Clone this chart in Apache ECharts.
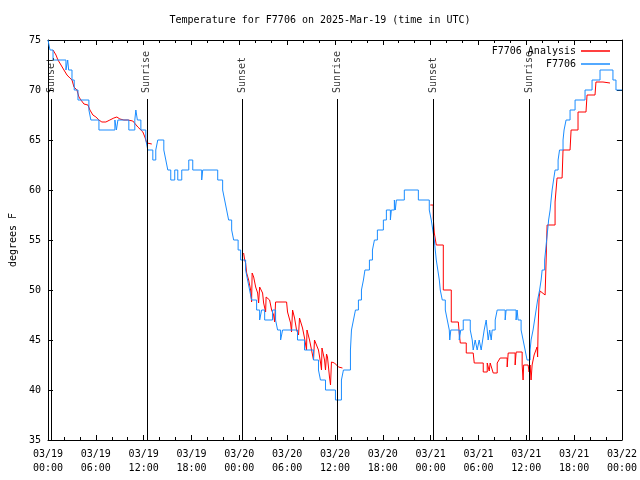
<!DOCTYPE html>
<html><head><meta charset="utf-8">
<script src="https://cdn.jsdelivr.net/npm/echarts@6/dist/echarts.min.js"></script>
<style>html,body{margin:0;padding:0;background:#fff}#c{width:640px;height:480px}</style>
</head><body><div id="c"></div>
<script>
// time in hours since 2025-03-19 00:00 UTC
const xTickLabels = ['03/19\n00:00','03/19\n06:00','03/19\n12:00','03/19\n18:00','03/20\n00:00','03/20\n06:00','03/20\n12:00','03/20\n18:00','03/21\n00:00','03/21\n06:00','03/21\n12:00','03/21\n18:00','03/22\n00:00'];
const yTicks = [35,40,45,50,55,60,65,70,75];

// F7706 observations (change points, held until next)
const obsHours = [0.00,0.25,0.63,2.25,2.47,2.59,3.01,3.29,3.76,5.13,5.38,6.39,8.39,8.58,8.77,10.14,10.89,11.02,11.21,11.65,12.27,12.52,13.15,13.52,13.77,14.53,14.78,15.03,15.40,15.90,16.28,16.78,17.66,18.16,19.28,19.41,21.29,21.91,22.16,22.41,22.66,23.04,23.29,23.85,24.17,24.79,25.04,25.29,25.54,26.17,26.55,26.80,27.18,28.17,28.55,28.80,29.18,29.43,31.30,32.18,33.31,33.93,34.18,34.81,36.06,36.81,37.06,37.94,38.07,38.32,38.57,38.94,39.32,39.57,39.76,40.32,40.70,40.95,41.32,42.07,42.45,42.95,43.07,43.45,43.57,43.70,44.70,46.46,47.83,48.08,48.27,48.46,48.58,48.71,48.90,49.09,49.21,49.46,49.84,50.09,50.34,50.40,50.53,51.59,51.78,52.09,52.97,53.22,53.34,53.59,53.84,54.09,54.34,54.53,54.72,54.97,55.10,55.22,55.41,55.60,55.72,56.10,56.35,57.35,57.47,58.72,58.85,58.97,59.35,59.60,59.85,60.10,60.48,60.60,60.85,61.04,61.23,61.42,61.67,61.86,61.99,62.30,62.43,62.55,62.68,62.80,62.99,63.11,63.24,63.42,63.61,63.99,64.17,64.61,64.74,64.99,65.49,66.12,67.37,68.25,69.25,70.87,71.25,72.00];
const obsTemps = [75,74,73,72,73,72,71,70,69,68,67,66,67,66,67,66,67,68,67,66,65,64,63,64,65,64,63,62,61,62,61,62,63,62,61,62,61,60,59,58,57,56,55,54,53,52,51,50,49,48,47,48,47,48,47,46,45,46,45,44,43,42,41,40,39,41,42,44,46,47,48,49,50,51,52,53,54,55,56,57,58,57,58,59,58,59,60,59,58,57,56,55,54,53,52,51,50,49,48,47,46,45,46,45,46,47,46,45,44,45,44,45,44,45,46,47,46,45,46,45,46,47,48,47,48,47,48,47,46,45,44,43,44,45,46,47,48,49,50,51,52,53,54,55,56,57,58,59,60,61,62,63,64,65,66,67,68,69,70,71,72,71,70,70];

// F7706 Analysis (three segments, null = gap)
const anaHours = [0.63,0.75,1.00,1.25,1.63,2.00,2.38,2.75,3.01,3.26,3.63,3.88,4.13,4.51,5.01,5.26,5.63,6.01,6.39,6.76,7.26,7.76,8.26,8.64,9.02,9.52,10.02,10.64,10.89,11.27,11.52,11.90,12.15,12.40,13.02,
 13.5,
 24.54,24.67,24.79,24.92,25.17,25.42,25.54,25.61,25.80,26.05,26.30,26.42,26.55,26.67,26.92,27.05,27.30,27.36,27.55,27.80,28.05,28.30,28.43,28.55,29.93,30.05,30.43,30.55,30.68,30.93,31.18,31.43,31.55,31.68,31.93,32.18,32.43,32.49,32.56,32.81,33.06,33.31,33.43,33.68,33.93,34.18,34.31,34.37,34.44,34.69,34.81,34.94,35.06,35.31,35.44,35.56,35.69,35.94,36.19,36.44,36.94,
 40.0,
 47.96,48.33,48.33,48.46,48.71,49.59,49.59,50.59,50.59,51.47,51.59,51.72,52.47,52.47,53.34,53.47,54.60,54.60,55.10,55.10,55.35,55.35,55.47,55.72,55.85,56.35,56.35,56.72,57.60,57.60,57.73,58.60,58.60,58.73,59.48,59.48,59.60,59.67,60.23,60.35,60.48,60.60,60.73,60.98,61.23,61.35,61.42,61.48,61.61,61.73,62.36,62.49,62.61,63.61,63.61,63.86,64.49,64.61,65.49,65.62,66.49,66.49,67.49,67.62,68.62,68.74,69.62,70.50];
const anaTemps = [74,73.9,73.5,73,72.5,72,71.5,71.2,71,70.3,70,69.3,69,68.6,68.5,68,67.5,67.3,67,66.8,66.8,67,67.2,67.3,67.1,67,67,66.9,66.8,66.3,66.2,65.8,65.3,64.7,64.6,
 null,
 53.7,53.0,52.7,51.7,51.0,50.0,48.8,51.7,51.3,50.3,49.7,48.7,50.3,50.3,49.7,48.7,47.8,49.3,49.3,49.0,48.0,47.5,46.8,48.8,48.8,47.8,46.7,45.8,48.0,47.2,46.0,45.5,47.2,47.2,46.2,45.2,44.0,46.0,46.0,45.0,44.0,43.0,45.0,45.0,44.0,42.8,42.0,44.2,44.2,43.0,42.0,43.6,43.3,41.3,40.5,42.8,43.0,42.7,42.5,42.3,42.2,
 null,
 58.5,58.5,57.2,55.7,54.5,54.5,50.0,50.0,46.8,46.8,45.7,44.7,44.7,43.7,43.7,42.7,42.7,41.8,41.8,42.7,42.7,41.9,42.7,42.7,41.7,41.7,42.7,43.2,43.2,42.3,43.7,43.7,42.5,43.8,43.8,42.5,41.0,42.5,42.5,41.8,42.5,41.0,42.5,43.5,43.5,44.3,43.3,46.0,49.3,49.9,49.5,53.0,56.5,56.5,58.8,61.2,61.2,64.0,64.0,66.0,66.0,67.8,67.8,69.5,69.5,70.8,70.8,70.7];

// Sun events
const eventNames = ['Sunset','Sunrise','Sunset','Sunrise','Sunset','Sunrise'];
const eventHours = [0.38,12.40,24.40,36.33,48.36,60.35];
const eventLineTop = 69.1, eventLabelBase = 69.7;

const FONT = 'DejaVu Sans Mono';
const obsData = obsHours.map((h,i)=>[h,obsTemps[i]]);
const anaData = anaHours.map((h,i)=>[h, anaTemps[i]===null ? '-' : anaTemps[i]]);

const baseX = {
  type:'value', min:0, max:72, interval:6,
  axisLine:{show:true,onZero:false,lineStyle:{color:'#000',width:1}},
  axisTick:{show:true,inside:true,length:5,lineStyle:{color:'#000'}},
  minorTick:{show:true,splitNumber:3,length:3,lineStyle:{color:'#000'}},
  splitLine:{show:false}, minorSplitLine:{show:false}
};
const baseY = {
  type:'value', min:35, max:75, interval:5,
  axisLine:{show:true,onZero:false,lineStyle:{color:'#000',width:1}},
  axisTick:{show:true,inside:true,length:5,lineStyle:{color:'#000'}},
  splitLine:{show:false}
};

const chart = echarts.init(document.getElementById('c'), null, {renderer:'canvas'});
chart.setOption({
  animation:false,
  backgroundColor:'#fff',
  title:{text:'Temperature for F7706 on 2025-Mar-19 (time in UTC)', left:'center', top:10,
    textStyle:{fontFamily:FONT,fontSize:10,fontWeight:'normal',color:'#000'}},
  grid:{left:47,right:18,top:40,bottom:40},
  legend:{
    data:['F7706 Analysis','F7706'], orient:'vertical', right:30, top:45, align:'right',
    padding:0, icon:'rect', itemWidth:29, itemHeight:1.5, itemGap:1,
    textStyle:{fontFamily:FONT,fontSize:10,color:'#000',width:86,align:'right',lineHeight:12}
  },
  xAxis:[
    Object.assign({}, baseX, {position:'bottom',
      axisLabel:{show:true,margin:7,fontFamily:FONT,fontSize:10,color:'#000',lineHeight:14,
        formatter:(v)=>xTickLabels[Math.round(v/6)]}}),
    Object.assign({}, baseX, {position:'top', axisLabel:{show:false}})
  ],
  yAxis:[
    Object.assign({}, baseY, {position:'left', name:'degrees F', nameLocation:'middle', nameGap:30,
      nameTextStyle:{fontFamily:FONT,fontSize:10,color:'#000'},
      axisLabel:{show:true,margin:7,fontFamily:FONT,fontSize:10,color:'#000',
        formatter:(v)=>yTicks.includes(v)?String(v):''}}),
    Object.assign({}, baseY, {position:'right', axisLabel:{show:false}})
  ],
  series:[
    {name:'F7706 Analysis', type:'line', data:anaData, showSymbol:false, symbol:'none',
      connectNulls:false, lineStyle:{color:'#ff0000',width:1}, itemStyle:{color:'#ff0000'}, z:2},
    {name:'F7706', type:'line', step:'end', data:obsData, showSymbol:false, symbol:'none',
      lineStyle:{color:'#1a8cff',width:1}, itemStyle:{color:'#1a8cff'}, z:3},
    {name:'events', type:'scatter', symbolSize:0, z:4, silent:true,
      data:eventHours.map((h,i)=>({value:[h,eventLabelBase], name:eventNames[i]})),
      label:{show:true, position:'inside', rotate:90, align:'left', verticalAlign:'middle',
        formatter:(p)=>p.name, fontFamily:FONT, fontSize:10, color:'#000'},
      markLine:{silent:true, symbol:'none', label:{show:false},
        lineStyle:{color:'#000',width:1,type:'solid'},
        data:eventHours.map(h=>[{coord:[h,35]},{coord:[h,eventLineTop]}])}
    }
  ]
});
</script></body></html>
